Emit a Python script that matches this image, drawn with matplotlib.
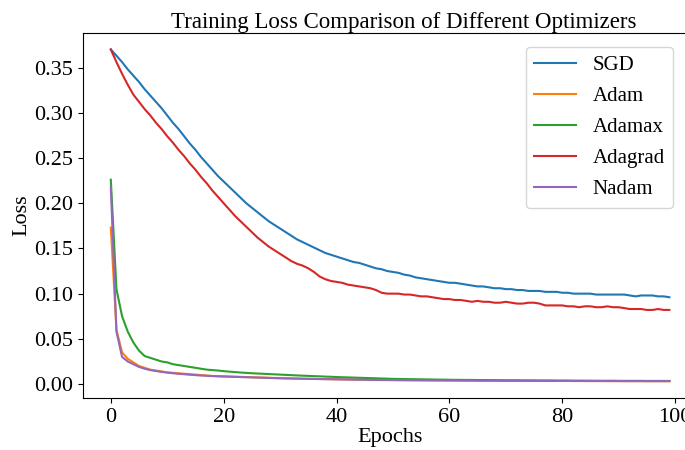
import matplotlib
matplotlib.use("Agg")
import matplotlib.pyplot as plt
from matplotlib.ticker import FormatStrFormatter, MultipleLocator

plt.rcParams["font.family"] = "serif"
plt.rcParams["font.serif"] = ["Liberation Serif", "DejaVu Serif"]

epochs = list(range(100))

sgd = [
    0.370, 0.363, 0.356, 0.348, 0.341, 0.334, 0.326, 0.319, 0.312, 0.305,
    0.297, 0.289, 0.282, 0.274, 0.266, 0.259, 0.251, 0.244, 0.237, 0.230,
    0.224, 0.218, 0.212, 0.206, 0.200, 0.195, 0.190, 0.185, 0.180, 0.176,
    0.172, 0.168, 0.164, 0.160, 0.157, 0.154, 0.151, 0.148, 0.145, 0.143,
    0.141, 0.139, 0.137, 0.135, 0.134, 0.132, 0.130, 0.128, 0.127, 0.125,
    0.124, 0.123, 0.121, 0.120, 0.118, 0.117, 0.116, 0.115, 0.114, 0.113,
    0.112, 0.112, 0.111, 0.110, 0.109, 0.108, 0.108, 0.107, 0.106, 0.106,
    0.105, 0.105, 0.104, 0.104, 0.103, 0.103, 0.103, 0.102, 0.102, 0.102,
    0.101, 0.101, 0.100, 0.100, 0.100, 0.100, 0.099, 0.099, 0.099, 0.099,
    0.099, 0.099, 0.098, 0.097, 0.098, 0.098, 0.098, 0.097, 0.097, 0.096,
]

adam = [
    0.173, 0.060, 0.035, 0.028, 0.024, 0.020, 0.018, 0.016, 0.015, 0.014,
    0.013, 0.0125, 0.012, 0.0115, 0.011, 0.0105, 0.010, 0.0095, 0.009, 0.0088,
    0.0086, 0.0084, 0.0082, 0.008, 0.0078, 0.0076, 0.0074, 0.0072, 0.007, 0.0068,
    0.0066, 0.0064, 0.0063, 0.0062, 0.006, 0.0059, 0.0058, 0.0056, 0.0055, 0.0054,
    0.0053, 0.0052, 0.0051, 0.005, 0.0049, 0.0048, 0.0047, 0.0046, 0.0045, 0.0045,
    0.0044, 0.0044, 0.0043, 0.0043, 0.0042, 0.0042, 0.0042, 0.0041, 0.0041, 0.004,
    0.004, 0.004, 0.0039, 0.0039, 0.0039, 0.0038, 0.0038, 0.0038, 0.0038, 0.0037,
    0.0037, 0.0037, 0.0037, 0.0036, 0.0036, 0.0036, 0.0036, 0.0035, 0.0035, 0.0035,
    0.0035, 0.0035, 0.0034, 0.0034, 0.0034, 0.0034, 0.0034, 0.0034, 0.0033, 0.0033,
    0.0033, 0.0033, 0.0033, 0.0033, 0.0033, 0.0032, 0.0032, 0.0032, 0.0032, 0.0032,
]

adamax = [
    0.226, 0.105, 0.075, 0.058, 0.046, 0.037, 0.031, 0.029, 0.027, 0.025,
    0.024, 0.022, 0.021, 0.020, 0.019, 0.018, 0.017, 0.016, 0.0155, 0.015,
    0.0143, 0.0138, 0.0133, 0.0128, 0.0124, 0.012, 0.0117, 0.0114, 0.0111, 0.0108,
    0.0105, 0.0102, 0.0099, 0.0096, 0.0093, 0.0091, 0.0088, 0.0086, 0.0083, 0.0081,
    0.0078, 0.0076, 0.0074, 0.0072, 0.007, 0.0068, 0.0066, 0.0064, 0.0062, 0.006,
    0.0058, 0.0057, 0.0056, 0.0055, 0.0054, 0.0053, 0.0052, 0.0051, 0.005, 0.0049,
    0.0048, 0.0047, 0.0047, 0.0046, 0.0046, 0.0045, 0.0045, 0.0044, 0.0044, 0.0043,
    0.0042, 0.0042, 0.0042, 0.0041, 0.0041, 0.0041, 0.004, 0.004, 0.004, 0.0039,
    0.0039, 0.0039, 0.0038, 0.0038, 0.0038, 0.0038, 0.0037, 0.0037, 0.0037, 0.0037,
    0.0036, 0.0036, 0.0036, 0.0036, 0.0036, 0.0035, 0.0035, 0.0035, 0.0035, 0.0035,
]

adagrad = [
    0.370, 0.356, 0.343, 0.331, 0.320, 0.312, 0.304, 0.297, 0.289, 0.282,
    0.274, 0.267, 0.259, 0.252, 0.244, 0.237, 0.229, 0.222, 0.214, 0.207,
    0.200, 0.193, 0.186, 0.180, 0.174, 0.168, 0.162, 0.157, 0.152, 0.148,
    0.144, 0.140, 0.136, 0.133, 0.131, 0.128, 0.124, 0.119, 0.116, 0.114,
    0.113, 0.112, 0.110, 0.109, 0.108, 0.107, 0.106, 0.104, 0.101, 0.100,
    0.100, 0.100, 0.099, 0.099, 0.098, 0.097, 0.097, 0.096, 0.095, 0.094,
    0.094, 0.093, 0.093, 0.092, 0.091, 0.092, 0.091, 0.091, 0.090, 0.090,
    0.091, 0.090, 0.089, 0.089, 0.090, 0.090, 0.089, 0.087, 0.087, 0.087,
    0.087, 0.086, 0.086, 0.085, 0.086, 0.086, 0.085, 0.085, 0.086, 0.085,
    0.085, 0.084, 0.083, 0.083, 0.083, 0.082, 0.082, 0.083, 0.082, 0.082,
]

nadam = [
    0.218, 0.058, 0.030, 0.025, 0.022, 0.019, 0.017, 0.0155, 0.0145, 0.0135,
    0.0127, 0.012, 0.0114, 0.0109, 0.0104, 0.0099, 0.0095, 0.0092, 0.0089, 0.0086,
    0.0084, 0.0082, 0.008, 0.0078, 0.0076, 0.0074, 0.0072, 0.007, 0.0068, 0.0066,
    0.0065, 0.0063, 0.0062, 0.006, 0.0059, 0.0058, 0.0057, 0.0056, 0.0055, 0.0054,
    0.0053, 0.0052, 0.0051, 0.005, 0.0049, 0.0048, 0.0047, 0.0046, 0.0046, 0.0045,
    0.0045, 0.0044, 0.0044, 0.0043, 0.0043, 0.0042, 0.0042, 0.0041, 0.0041, 0.0041,
    0.004, 0.004, 0.004, 0.0039, 0.0039, 0.0039, 0.0038, 0.0038, 0.0038, 0.0038,
    0.0037, 0.0037, 0.0037, 0.0037, 0.0036, 0.0036, 0.0036, 0.0036, 0.0036, 0.0035,
    0.0035, 0.0035, 0.0035, 0.0035, 0.0034, 0.0034, 0.0034, 0.0034, 0.0034, 0.0034,
    0.0034, 0.0033, 0.0033, 0.0033, 0.0033, 0.0033, 0.0033, 0.0033, 0.0033, 0.0033,
]

series = {
    "SGD": sgd,
    "Adam": adam,
    "Adamax": adamax,
    "Adagrad": adagrad,
    "Nadam": nadam,
}

fig = plt.figure(figsize=(6.85, 4.5), dpi=100)
# the source image is cropped on the right, so the axes run past the figure edge
ax = fig.add_axes([0.121, 0.116, 0.897, 0.811])

for name, values in series.items():
    ax.plot(epochs, values, label=name, linewidth=1.5)

ax.yaxis.set_major_locator(MultipleLocator(0.05))
ax.yaxis.set_major_formatter(FormatStrFormatter("%.2f"))

ax.set_title("Training Loss Comparison of Different Optimizers", fontsize=16.5,
             pad=3, x=0.523)
ax.set_xlabel("Epochs", fontsize=16, labelpad=1)
ax.set_ylabel("Loss", fontsize=16, labelpad=2)
ax.tick_params(labelsize=16)
ax.legend(fontsize=15, loc="upper right", bbox_to_anchor=(0.998, 0.918),
          bbox_transform=fig.transFigure, labelspacing=0.55)

fig.savefig("out.png", dpi=100)
